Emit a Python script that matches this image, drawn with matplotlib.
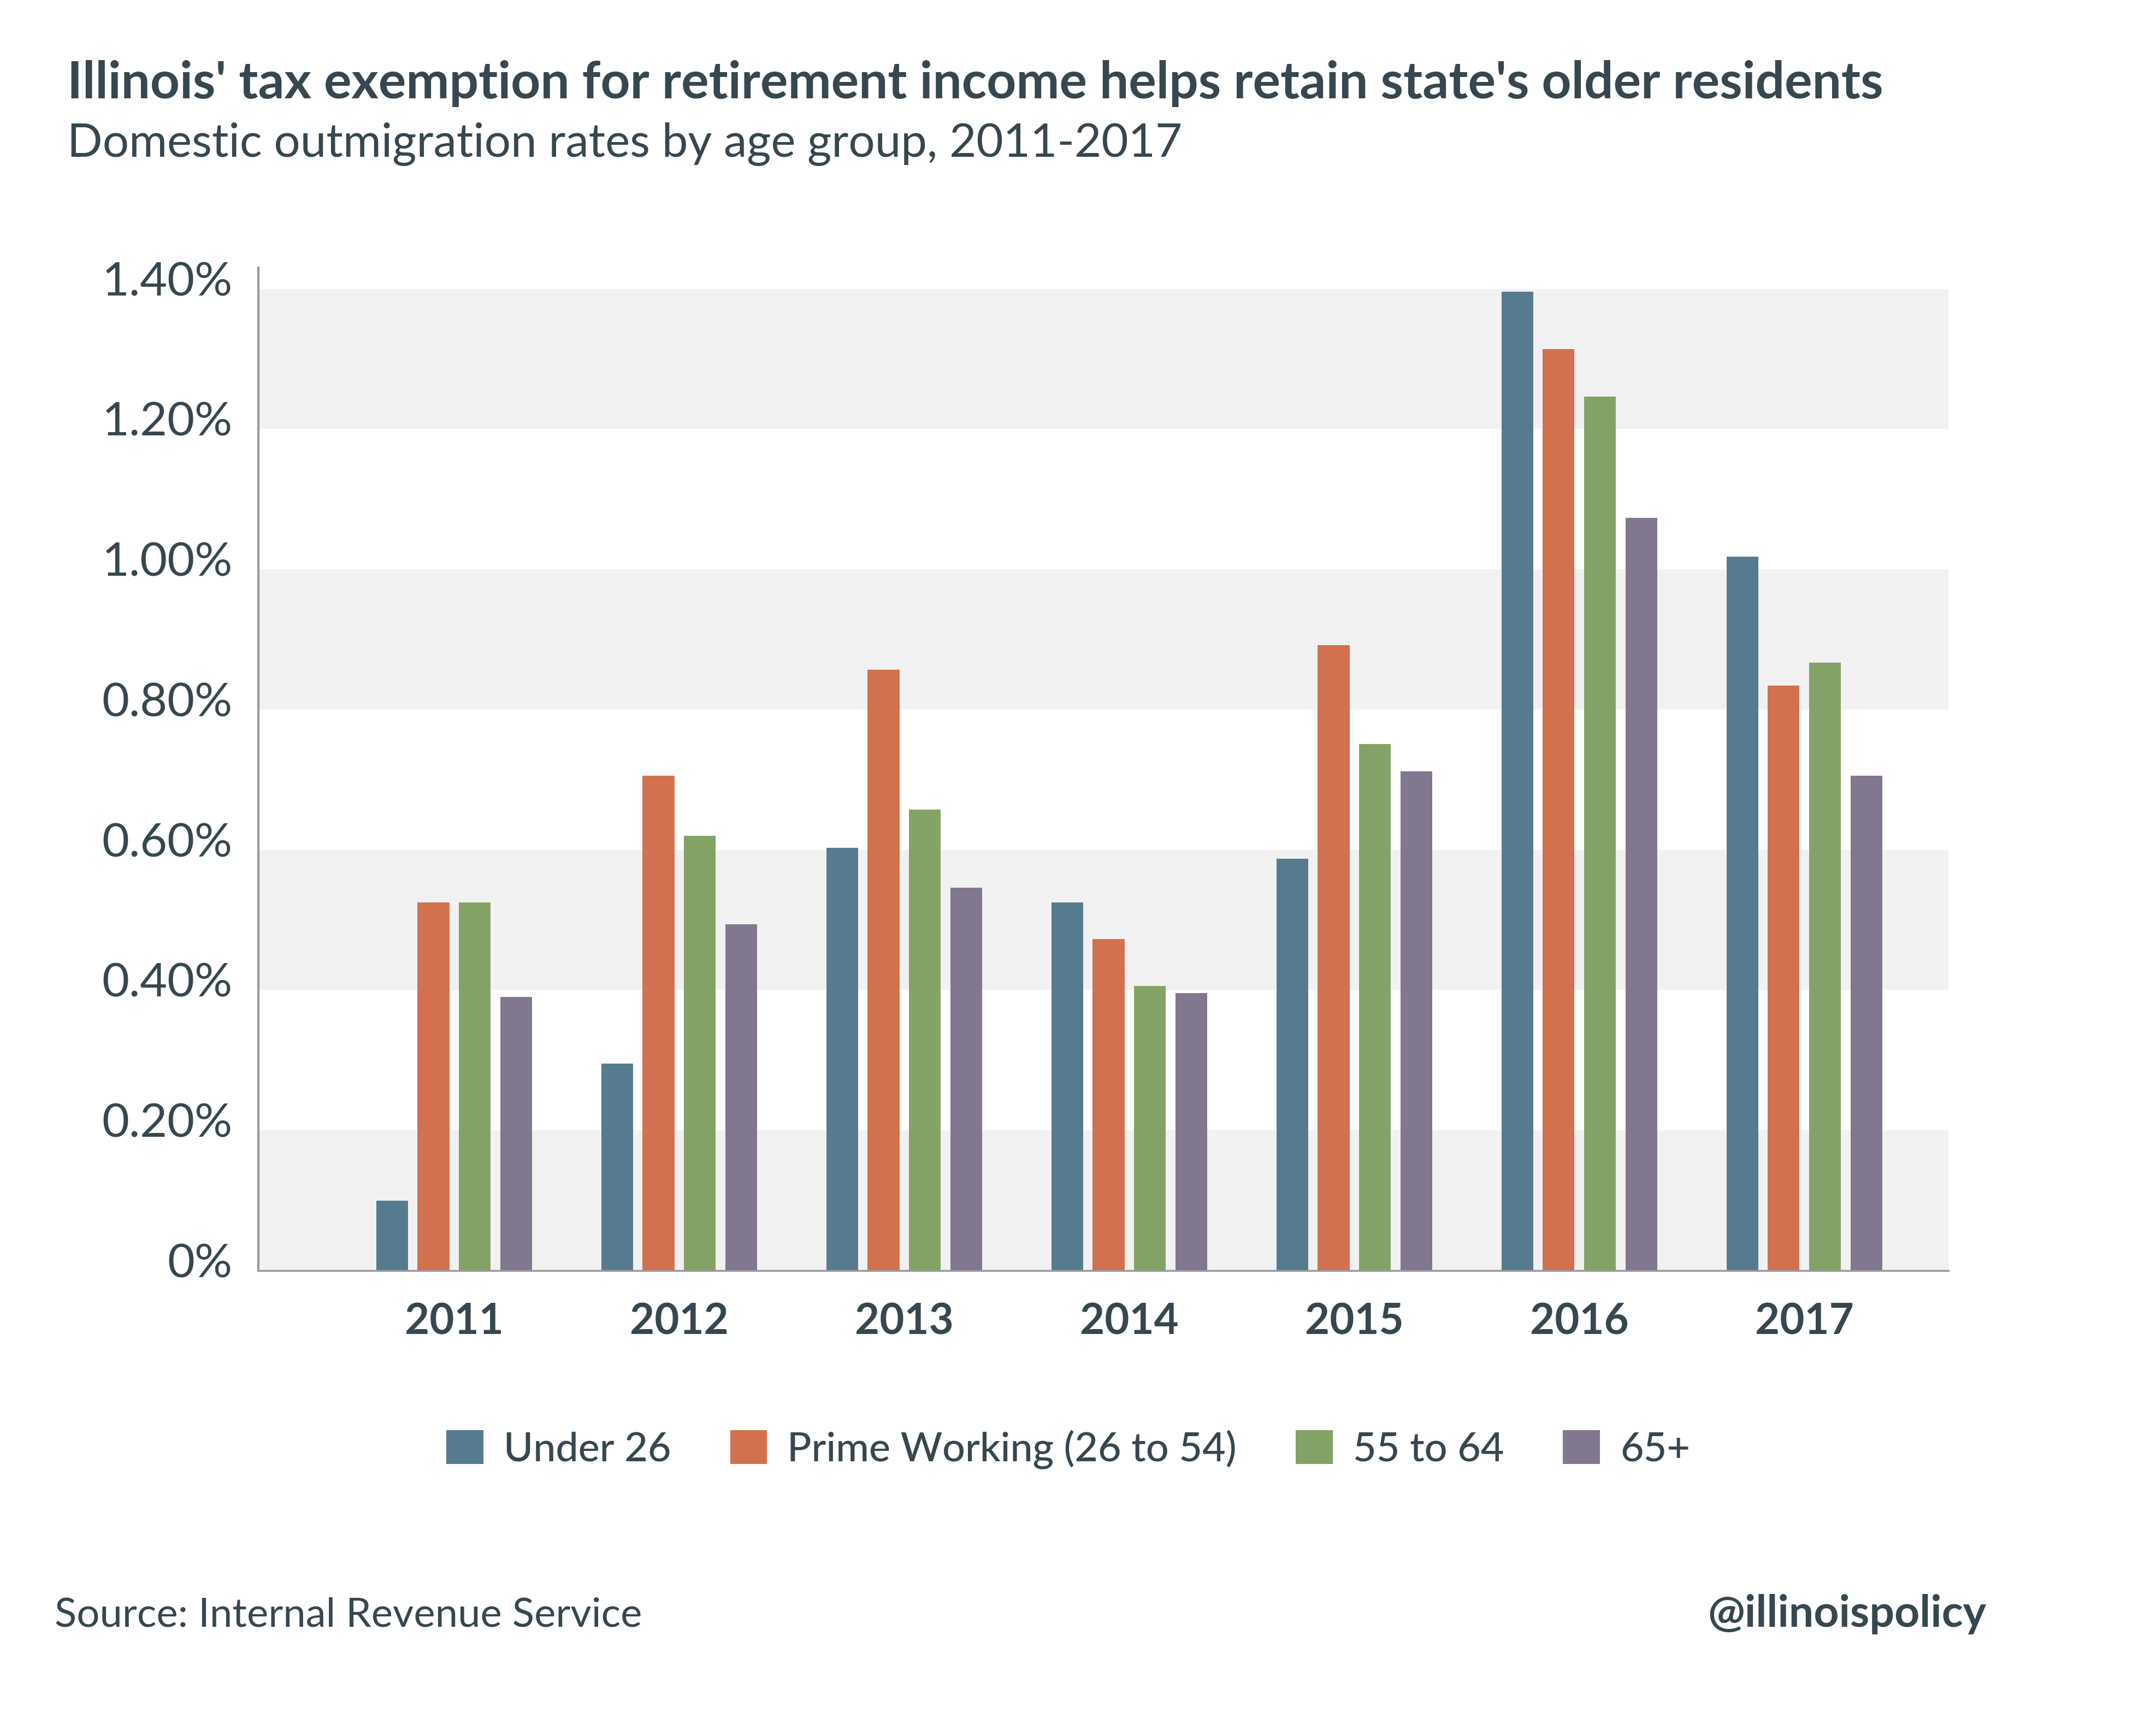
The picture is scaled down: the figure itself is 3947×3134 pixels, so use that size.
import numpy as np
import matplotlib
matplotlib.use("Agg")
import matplotlib.pyplot as plt
from matplotlib.transforms import ScaledTranslation

# ---------------------------------------------------------
# DATA
# ---------------------------------------------------------
YEARS = ["2011", "2012", "2013", "2014", "2015", "2016", "2017"]
GROUPS = ["Under 26", "Prime Working (26 to 54)", "55 to 64", "65+"]

UNDER_26 = [0.100, 0.295, 0.603, 0.525, 0.587, 1.396, 1.018]
PRIME_WORKING = [0.525, 0.706, 0.857, 0.473, 0.892, 1.314, 0.834]
AGE_55_64 = [0.525, 0.620, 0.657, 0.406, 0.751, 1.246, 0.867]
AGE_65_PLUS = [0.390, 0.494, 0.546, 0.396, 0.712, 1.073, 0.706]

Y_TICKS = [0.0, 0.2, 0.4, 0.6, 0.8, 1.0, 1.2, 1.4]
Y_TICK_LABELS = ["0%", "0.20%", "0.40%", "0.60%", "0.80%", "1.00%", "1.20%", "1.40%"]

# ---------------------------------------------------------
# STYLE
# ---------------------------------------------------------
COLORS = ["#577b8e", "#d3704e", "#85a266", "#81778e"]
TEXT = "#36474f"
BAND = "#f1f1f1"
SPINE = "#9a9a9a"
DPI = 100
W, H = 3947, 3134

plt.rcParams["font.family"] = ["Lato", "DejaVu Sans"]

fig = plt.figure(figsize=(W / DPI, H / DPI), dpi=DPI)
ax = fig.add_axes([473 / W, 1 - 2326 / H, (3567 - 473) / W, (2326 - 490) / H])

# alternating background bands
for lo in [0.0, 0.4, 0.8, 1.2]:
    ax.axhspan(lo, lo + 0.2, color=BAND, zorder=0, lw=0)

x = np.arange(len(YEARS))
pitch = 0.184
width = 0.141
series = [UNDER_26, PRIME_WORKING, AGE_55_64, AGE_65_PLUS]
for i, (vals, name) in enumerate(zip(series, GROUPS)):
    ax.bar(x + (i - 1.5) * pitch, vals, width=width, color=COLORS[i],
           label=name, zorder=2, lw=0)

ax.set_xlim(-0.87, 6.64)
ax.set_ylim(0, 1.43)

for s in ["top", "right"]:
    ax.spines[s].set_visible(False)
ax.spines["left"].set_color(SPINE)
ax.spines["left"].set_linewidth(3)
ax.spines["bottom"].set_color(SPINE)
ax.spines["bottom"].set_linewidth(2.5)

ax.set_yticks(Y_TICKS)
ax.set_yticklabels(Y_TICK_LABELS, fontsize=62, color=TEXT, fontweight="normal")
ax.tick_params(axis="y", length=0, pad=34)
for lab in ax.get_yticklabels():
    lab.set_transform(lab.get_transform() + ScaledTranslation(0, 19 / DPI, fig.dpi_scale_trans))

ax.set_xticks(x)
ax.set_xticklabels(YEARS, fontsize=56, color=TEXT, fontweight="bold")
ax.tick_params(axis="x", length=0, pad=42)

# legend
ax.legend(loc="center", bbox_to_anchor=(0.4955, 1 - 2653 / H),
          bbox_transform=fig.transFigure, ncol=4, frameon=False,
          prop={"size": 53, "weight": "medium"}, labelcolor=TEXT,
          handlelength=0.92, handleheight=0.92, handletextpad=0.5,
          columnspacing=1.47)

# titles and footer
fig.text(123 / W, 1 - 180 / H,
         "Illinois' tax exemption for retirement income helps retain state's older residents",
         fontsize=68, fontweight="bold", color=TEXT, va="baseline", ha="left")
fig.text(123 / W, 1 - 286 / H, "Domestic outmigration rates by age group, 2011-2017",
         fontsize=61.3, fontweight="normal", color=TEXT, va="baseline", ha="left")
fig.text(100 / W, 1 - 2978 / H, "Source: Internal Revenue Service",
         fontsize=53.5, color=TEXT, va="baseline", ha="left")
fig.text(3637 / W, 1 - 2978 / H, "@illinoispolicy",
         fontsize=58, fontweight="bold", color=TEXT, va="baseline", ha="right")

fig.savefig("out.png", dpi=DPI, facecolor="white")
